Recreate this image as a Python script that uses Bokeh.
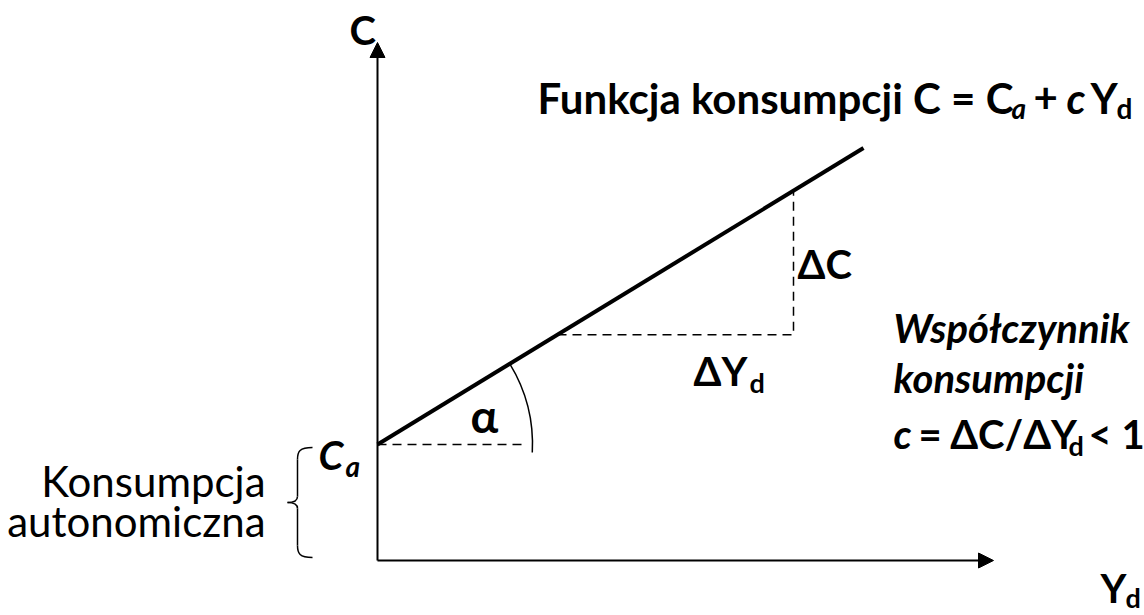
import math
from bokeh.plotting import figure
from bokeh.models import Range1d, Arrow, NormalHead
from bokeh.core.properties import value
from bokeh.embed import file_html
from bokeh.resources import INLINE

# ---- diagram values (units: 1 unit = 1 screen pixel) ----
Ca = 116                 # autonomous consumption
c = 0.61                 # marginal propensity to consume
yd_line = [0, 486]       # disposable income range of the consumption function
c_line = [Ca + c * v for v in yd_line]
x_axis_end = 616
y_axis_end = 518
dyd_pts = [180, 416]     # ΔYd segment
alpha_dash_end = 150
arc_radius = 155

FONT = value("Lato")
OX, OY = 377, 560        # screen position of the origin

p = figure(width=1144, height=615, output_backend="svg", toolbar_location=None,
           x_axis_type=None, y_axis_type=None, min_border=0,
           x_range=Range1d(-OX, 1144 - OX), y_range=Range1d(OY - 615, OY))
p.outline_line_color = None
p.grid.visible = False
p.background_fill_color = "white"

# axes with arrows
p.add_layout(Arrow(end=NormalHead(size=15, fill_color="black", line_color="black", line_width=1),
                   x_start=0, y_start=0, x_end=x_axis_end, y_end=0, line_width=2, line_color="black"))
p.add_layout(Arrow(end=NormalHead(size=15, fill_color="black", line_color="black", line_width=1),
                   x_start=0, y_start=0, x_end=0, y_end=y_axis_end, line_width=2, line_color="black"))

# consumption function
p.line(yd_line, c_line, line_width=4, line_color="black")

# dashed helpers
p.line([0, alpha_dash_end], [Ca, Ca], line_width=1.5, line_color="black", line_dash="9 6")
cy0 = Ca + c * dyd_pts[0]
cy1 = Ca + c * dyd_pts[1]
p.line([dyd_pts[0], dyd_pts[1], dyd_pts[1]], [cy0, cy0, cy1], line_width=1.5,
       line_color="black", line_dash="9 6")

# angle arc
p.arc(x=[0], y=[Ca], radius=arc_radius, start_angle=-0.052, end_angle=math.atan(c),
      line_width=1.5, line_color="black")

# brace for autonomous consumption
bt, bb = Ca - 3, 3
mid = (bt + bb) / 2
bx, tipx, hookx = -80, -90, -65
p.bezier(x0=[hookx, bx, hookx, bx], y0=[bt, mid + 6, bb, mid - 6],
         x1=[bx, tipx, bx, tipx], y1=[bt - 12, mid, bb + 12, mid],
         cx0=[bx + 2, bx, bx + 2, bx], cy0=[bt, mid + 2, bb, mid - 2],
         cx1=[bx, bx - 4, bx, bx - 4], cy1=[bt - 4, mid, bb + 4, mid],
         line_width=1.5, line_color="black")
p.segment(x0=[bx, bx], y0=[bt - 12, bb + 12], x1=[bx, bx], y1=[mid + 6, mid - 6],
          line_width=1.5, line_color="black")


def txt(px, base, s, size, style="bold", align="left"):
    # px: left/right screen x, base: screen baseline y
    p.text(x=[px - OX], y=[OY - (base - 0.38 * size)], text=[s], text_font=FONT,
           text_font_size=f"{size}px", text_font_style=style, text_align=align,
           text_baseline="alphabetic", text_color="black")


# axis labels
txt(349, 45, "C", 40)
txt(1100, 603, "Y", 40)
txt(1125, 607, "d", 27)

# title
txt(537, 113, "Funkcja konsumpcji C = C", 42)
txt(1011, 118, "a", 28, "bold italic")
txt(1033, 113, "+", 42)
txt(1066, 113, "c", 42, "bold italic")
txt(1090, 113, "Y", 42)
txt(1116, 118, "d", 28)

# delta labels
txt(797, 279, "ΔC", 40)
txt(693, 386, "ΔY", 40)
txt(749, 392, "d", 27)
txt(470, 432, "α", 46)

# Ca label
txt(318, 470, "C", 40, "bold italic")
txt(345, 476, "a", 28, "bold italic")

# autonomous consumption
txt(265, 496, "Konsumpcja", 42, "normal", "right")
txt(265, 536, "autonomiczna", 42, "normal", "right")

# coefficient block
txt(893, 343, "Współczynnik", 40, "bold italic")
txt(893, 393, "konsumpcji", 40, "bold italic")
txt(893, 449, "c", 40, "bold italic")
txt(918, 449, "= ΔC/ΔY", 40)
txt(1068, 455, "d", 27)
txt(1088, 449, "< 1", 40)

open("out.html", "w").write(file_html(p, INLINE))
